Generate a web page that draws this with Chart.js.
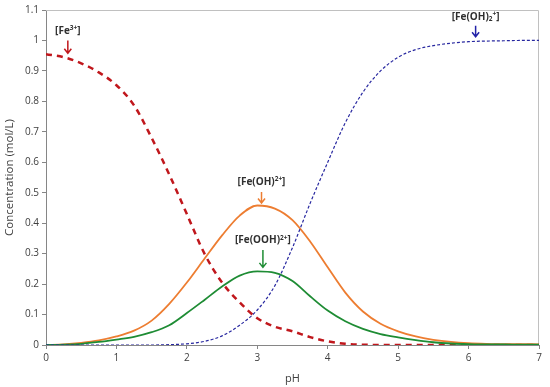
<!DOCTYPE html>
<html>
<head>
<meta charset="utf-8">
<script src="https://cdn.jsdelivr.net/npm/chart.js@4.4.0/dist/chart.umd.min.js"></script>
<style>
  html, body { margin: 0; padding: 0; background: #fff; }
  #wrap { width: 550px; height: 387px; }
</style>
</head>
<body>
<div id="wrap"><canvas id="chartCanvas" width="550" height="387"></canvas></div>
<script>
// pH grid, step 0.25
const phValues = [0, 0.25, 0.5, 0.75, 1, 1.25, 1.5, 1.75, 2, 2.25, 2.5, 2.75, 3, 3.25, 3.5, 3.75,
  4, 4.25, 4.5, 4.75, 5, 5.25, 5.5, 5.75, 6, 6.25, 6.5, 6.75, 7];

const fe3 = [0.955, 0.945, 0.925, 0.895, 0.853, 0.787, 0.68, 0.56, 0.43, 0.30, 0.205, 0.14, 0.088, 0.06,
  0.045, 0.026, 0.012, 0.004, 0.001, 0, 0, 0, 0, 0, 0, 0, 0, 0, 0];

const feOH = [0, 0.002, 0.007, 0.015, 0.028, 0.047, 0.08, 0.135, 0.205, 0.283, 0.36, 0.425, 0.458, 0.448,
  0.41, 0.34, 0.255, 0.172, 0.11, 0.07, 0.045, 0.028, 0.017, 0.01, 0.006, 0.004, 0.003, 0.003, 0.002];

const feOOH = [0, 0.001, 0.004, 0.01, 0.018, 0.027, 0.042, 0.065, 0.105, 0.148, 0.192, 0.228, 0.242, 0.237,
  0.21, 0.16, 0.113, 0.078, 0.053, 0.036, 0.025, 0.016, 0.009, 0.005, 0.003, 0.002, 0.002, 0.001, 0.001];

const feOH2 = [0, 0, 0, 0, 0, 0, 0, 0.001, 0.004, 0.012, 0.03, 0.065, 0.115, 0.195,
  0.32, 0.465, 0.6, 0.73, 0.83, 0.9, 0.945, 0.97, 0.983, 0.991, 0.996, 0.998, 0.999, 1.0, 1.0];

const yTicks = [0, 0.1, 0.2, 0.3, 0.4, 0.5, 0.6, 0.7, 0.8, 0.9, 1, 1.1];

// labels: [parts], x (pH), y (conc), arrow from/to (conc), colour
const labels = [
  { parts: [['[Fe', 0], ['3+', 1], [']', 0]], x: 0.31, y: 1.032, a1: 1.0, a2: 0.958, color: '#c0171c' },
  { parts: [['[Fe(OH)', 0], ['2+', 1], [']', 0]], x: 3.06, y: 0.536, a1: 0.502, a2: 0.466, color: '#ed7d31' },
  { parts: [['[Fe(OOH)', 0], ['2+', 1], [']', 0]], x: 3.08, y: 0.343, a1: 0.312, a2: 0.255, color: '#1e8c34' },
  { parts: [['[Fe(OH)', 0], ['2', 2], ['+', 1], [']', 0]], x: 6.1, y: 1.078, a1: 1.048, a2: 1.012, color: '#2222a8' }
];

const toXY = arr => arr.map((v, i) => ({ x: phValues[i], y: v }));

const frame = {
  id: 'frame',
  beforeDatasetsDraw(c) {
    const { ctx, chartArea: a } = c;
    ctx.save();
    ctx.strokeStyle = '#c0c0c0';
    ctx.lineWidth = 1;
    ctx.beginPath();
    ctx.moveTo(a.left, a.top + 0.5);
    ctx.lineTo(a.right - 0.5, a.top + 0.5);
    ctx.lineTo(a.right - 0.5, a.bottom);
    ctx.stroke();
    ctx.restore();
  }
};

const notes = {
  id: 'notes',
  afterDatasetsDraw(c) {
    const { ctx, scales } = c;
    ctx.save();
    labels.forEach(l => {
      const px = scales.x.getPixelForValue(l.x);
      const py = scales.y.getPixelForValue(l.y);
      const big = 'bold 10px "Open Sans", sans-serif';
      const small = 'bold 6.5px "Open Sans", sans-serif';
      let w = 0;
      l.parts.forEach(p => { ctx.font = p[1] ? small : big; w += ctx.measureText(p[0]).width; });
      let cx = px - w / 2;
      ctx.fillStyle = '#303030';
      ctx.textBaseline = 'middle';
      ctx.textAlign = 'left';
      l.parts.forEach(p => {
        ctx.font = p[1] ? small : big;
        const dy = p[1] === 1 ? -2.5 : (p[1] === 2 ? 2.5 : 0);
        ctx.fillText(p[0], cx, py + dy);
        cx += ctx.measureText(p[0]).width;
      });
      // arrow
      const y1 = scales.y.getPixelForValue(l.a1);
      const y2 = scales.y.getPixelForValue(l.a2);
      ctx.strokeStyle = l.color;
      ctx.lineWidth = 1.5;
      ctx.beginPath();
      ctx.moveTo(px, y1);
      ctx.lineTo(px, y2);
      ctx.moveTo(px - 3.5, y2 - 4.5);
      ctx.lineTo(px, y2);
      ctx.lineTo(px + 3.5, y2 - 4.5);
      ctx.stroke();
    });
    ctx.restore();
  }
};

const ctx = document.getElementById('chartCanvas').getContext('2d');
const chart = new Chart(ctx, {
  type: 'line',
  data: {
    datasets: [
      { label: 'Fe(OH)2+', data: toXY(feOH2), borderColor: '#2828a0', borderWidth: 1.2, borderDash: [3, 2] },
      { label: 'Fe(OOH)2+', data: toXY(feOOH), borderColor: '#1e8c34', borderWidth: 1.8 },
      { label: 'Fe(OH)2+', data: toXY(feOH), borderColor: '#ed7d31', borderWidth: 1.8 },
      { label: 'Fe3+', data: toXY(fe3), borderColor: '#c0171c', borderWidth: 2.5, borderDash: [6, 5] }
    ]
  },
  options: {
    responsive: false,
    animation: false,
    elements: {
      point: { radius: 0 },
      line: { cubicInterpolationMode: 'monotone', fill: false }
    },
    layout: { padding: { left: 0, right: 11, top: 10, bottom: 0 } },
    plugins: {
      legend: { display: false },
      tooltip: { enabled: false }
    },
    scales: {
      x: {
        type: 'linear',
        min: 0,
        max: 7,
        ticks: { stepSize: 1, color: '#404040', font: { size: 10, family: '"Open Sans", sans-serif' }, padding: 3 },
        grid: { drawOnChartArea: false, drawTicks: true, tickLength: 4, color: '#868686' },
        border: { color: '#868686', width: 1 },
        title: { display: true, text: 'pH', color: '#404040', font: { size: 11, family: '"Open Sans", sans-serif' }, padding: { top: 0, bottom: 2 } },
        afterFit(s) { s.height = 42; }
      },
      y: {
        type: 'linear',
        min: 0,
        max: 1.1,
        afterBuildTicks(s) { s.ticks = yTicks.map(v => ({ value: v })); },
        ticks: { color: '#404040', font: { size: 10, family: '"Open Sans", sans-serif' }, padding: 3,
          callback: v => String(Math.round(v * 10) / 10) },
        grid: { drawOnChartArea: false, drawTicks: true, tickLength: 4, color: '#868686' },
        border: { color: '#868686', width: 1 },
        title: { display: true, text: 'Concentration (mol/L)', color: '#404040', font: { size: 11.5, family: '"Open Sans", sans-serif' }, padding: { top: 3, bottom: 4 } },
        afterFit(s) { s.width = 46; }
      }
    }
  },
  plugins: [frame, notes]
});
</script>
</body>
</html>
